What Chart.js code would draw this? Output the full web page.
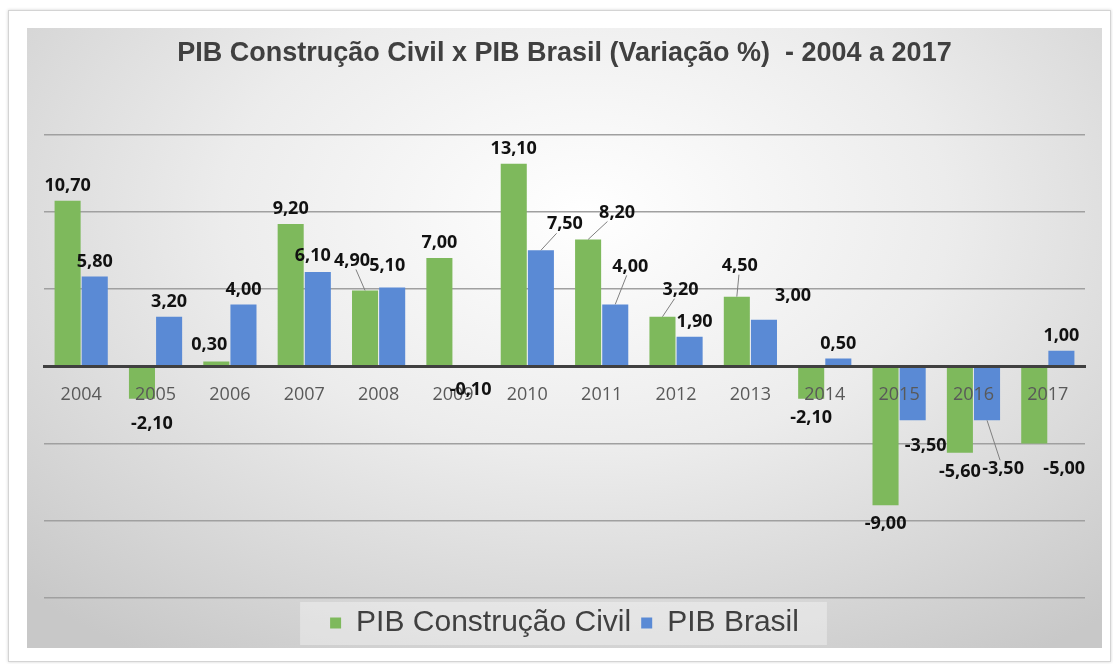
<!DOCTYPE html>
<html lang="pt-BR">
<head>
<meta charset="utf-8">
<title>PIB Construção Civil x PIB Brasil</title>
<script src="https://cdn.jsdelivr.net/npm/chart.js@4.4.1/dist/chart.umd.min.js"></script>
<style>
  html, body { margin: 0; padding: 0; background: #fff; }
  body { width: 1113px; height: 664px; position: relative; overflow: hidden; }
  .moldura {
    position: absolute; left: 8px; top: 10px; width: 1101px; height: 650px;
    border: 1px solid #d4d4d4; box-shadow: 0 0 3px rgba(0,0,0,.18); background: #fff;
  }
  .grafico {
    position: absolute; left: 27px; top: 28px; width: 1075px; height: 620px;
    background: radial-gradient(ellipse 75% 85% at 52% 30%, #ffffff 0%, #ececec 45%, #c8c8c8 100%);
  }
</style>
</head>
<body>
<div class="moldura"></div>
<div class="grafico"><canvas id="graficoPib"></canvas></div>
<script>
// Dados (variação % anual)
const anos = ['2004', '2005', '2006', '2007', '2008', '2009', '2010',
              '2011', '2012', '2013', '2014', '2015', '2016', '2017'];
const pibConstrucao = [10.7, -2.1, 0.3, 9.2, 4.9, 7.0, 13.1, 8.2, 3.2, 4.5, -2.1, -9.0, -5.6, -5.0];
const pibBrasil = [5.8, 3.2, 4.0, 6.1, 5.1, -0.1, 7.5, 4.0, 1.9, 3.0, 0.5, -3.5, -3.5, 1.0];

// rótulos que foram arrastados no original: [dx, dy, linha guia]
const ajusteRotulos = {
    0: { 1: [10, 25], 2: [-7, -17], 4: [-13, -30, true], 7: [29, -27, true],
         8: [18, -27, true], 9: [3, -31, true], 13: [30, 25] },
    1: { 3: [-5, -16], 4: [-5, -22], 5: [4, 22], 6: [24, -26, true], 7: [15, -38, true],
         8: [5, -15], 9: [29, -24], 11: [13, 26], 12: [16, 49, true] }
};

// Plugin simples para escrever os valores nas barras
const rotulosValores = {
    id: 'rotulosValores',
    afterDraw(chart) {
        const ctx = chart.ctx;
        ctx.save();
        ctx.font = 'bold 18px "Open Sans"';
        ctx.textAlign = 'center';
        ctx.textBaseline = 'middle';
        chart.data.datasets.forEach((ds, i) => {
            const meta = chart.getDatasetMeta(i);
            meta.data.forEach((bar, j) => {
                const v = ds.data[j];
                const aj = (ajusteRotulos[i] || {})[j];
                const dx = aj ? aj[0] : 0;
                const dy = aj ? aj[1] : (v >= 0 ? -15 : 19);
                const x = bar.x + dx, y = bar.y + dy;
                const txt = v.toFixed(2).replace('.', ',');
                if (aj && aj[2]) {
                    const w = ctx.measureText(txt).width / 2 + 2, h = 9;
                    const vx = bar.x - x, vy = bar.y - y;
                    const t = Math.min(vx ? w / Math.abs(vx) : Infinity, vy ? h / Math.abs(vy) : Infinity);
                    ctx.beginPath();
                    ctx.strokeStyle = '#7f7f7f';
                    ctx.lineWidth = 1;
                    ctx.moveTo(x + vx * t, y + vy * t);
                    ctx.lineTo(bar.x, bar.y);
                    ctx.stroke();
                }
                ctx.fillStyle = '#111111';
                ctx.fillText(txt, x, y);
            });
        });
        ctx.restore();
    }
};

// Caixa clara atrás da legenda
const fundoLegenda = {
    id: 'fundoLegenda',
    beforeDraw(chart) {
        const lg = chart.legend;
        if (!lg || !lg.legendHitBoxes.length) return;
        const caixas = lg.legendHitBoxes;
        const esq = Math.min(...caixas.map(b => b.left)) - 30;
        const dir = Math.max(...caixas.map(b => b.left + b.width)) + 28;
        const ctx = chart.ctx;
        ctx.save();
        ctx.fillStyle = 'rgba(255,255,255,0.35)';
        ctx.fillRect(esq, lg.top + 4, dir - esq, 43);
        ctx.restore();
    }
};

const config = {
    type: 'bar',
    data: {
        labels: anos,
        datasets: [
            {
                label: 'PIB Construção Civil',
                data: pibConstrucao,
                backgroundColor: '#7EB95C',
                barPercentage: 0.96,
                categoryPercentage: 0.73
            },
            {
                label: 'PIB Brasil',
                data: pibBrasil,
                backgroundColor: '#5A8AD5',
                barPercentage: 0.96,
                categoryPercentage: 0.73
            }
        ]
    },
    options: {
        responsive: true,
        maintainAspectRatio: false,
        animation: false,
        layout: { padding: { left: 17, right: 17, top: 0, bottom: 0 } },
        scales: {
            x: {
                position: { y: 0 },
                grid: { display: false, drawTicks: false },
                border: { display: true, color: '#404040', width: 3, z: 1 },
                ticks: {
                    z: 1,
                    color: '#595959',
                    padding: 18,
                    font: { family: '"Open Sans"', size: 18 }
                }
            },
            y: {
                min: -15,
                max: 15,
                ticks: { display: false, stepSize: 5 },
                border: { display: false },
                grid: {
                    drawTicks: false,
                    color: c => c.tick.value === 0 ? 'rgba(0,0,0,0)' : '#a0a0a0',
                    lineWidth: 1.5
                }
            }
        },
        plugins: {
            title: {
                display: true,
                text: 'PIB Construção Civil x PIB Brasil (Variação %)  - 2004 a 2017',
                color: '#404040',
                font: { family: '"Liberation Sans", Arial', size: 27, weight: 'bold' },
                padding: { top: 9, bottom: 65 }
            },
            legend: {
                position: 'bottom',
                labels: {
                    usePointStyle: true,
                    pointStyle: 'rect',
                    boxWidth: 11,
                    boxHeight: 11,
                    padding: 10,
                    color: '#404040',
                    font: { family: '"Liberation Sans", Arial', size: 30 }
                }
            },
            tooltip: { enabled: false }
        }
    },
    plugins: [fundoLegenda, rotulosValores]
};

const graficoPib = new Chart(document.getElementById('graficoPib'), config);
</script>
</body>
</html>
